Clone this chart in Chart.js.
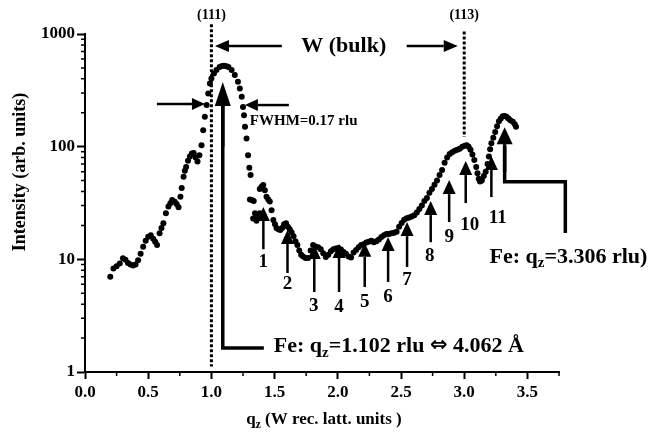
<!DOCTYPE html>
<html>
<head>
<meta charset="utf-8">
<script src="https://cdn.jsdelivr.net/npm/chart.js@4.4.0/dist/chart.umd.min.js"></script>
<style>body{margin:0;background:#fff}</style>
</head>
<body>
<canvas id="c" width="649" height="445"></canvas>
<script>
const qz = [
  0.200,0.225,0.250,0.275,0.300,0.320,0.340,0.360,0.380,0.400,0.420,0.440,0.460,0.480,0.500,0.520,0.540,0.555,0.570,0.590,
  0.605,0.620,0.640,0.660,0.675,0.690,0.710,0.725,0.740,0.755,0.765,0.780,0.790,0.800,0.815,0.830,0.845,0.860,0.875,0.890,
  0.905,0.922,0.935,0.948,0.962,0.975,0.988,1.000,1.020,1.040,1.065,1.085,1.100,1.120,1.135,1.160,1.185,1.210,1.225,1.240,
  1.250,1.258,1.266,1.278,1.290,1.300,1.310,1.305,1.320,1.335,1.330,1.345,1.357,1.370,1.383,1.383,1.397,1.410,1.423,1.436,
  1.450,1.462,1.476,1.490,1.503,1.515,1.530,1.545,1.560,1.575,1.590,1.605,1.620,1.635,1.650,1.665,1.680,1.695,1.710,1.725,
  1.745,1.765,1.785,1.805,1.825,1.845,1.865,1.885,1.905,1.925,1.945,1.965,1.985,2.005,2.025,2.045,2.065,2.085,2.105,2.125,
  2.145,2.165,2.185,2.205,2.225,2.245,2.265,2.285,2.305,2.325,2.345,2.365,2.385,2.405,2.425,2.445,2.465,2.485,2.505,2.525,
  2.545,2.565,2.585,2.605,2.625,2.645,2.665,2.685,2.705,2.725,2.745,2.765,2.785,2.805,2.825,2.845,2.865,2.885,2.905,2.925,
  2.945,2.965,2.985,3.005,3.020,3.035,3.050,3.065,3.080,3.095,3.105,3.115,3.125,3.140,3.155,3.170,3.185,3.195,3.205,3.215,
  3.230,3.245,3.260,3.275,3.290,3.305,3.320,3.335,3.350,3.365,3.385,3.400,3.410
];
const intensity = [
  7.0,8.3,8.7,9.2,10.2,9.9,9.3,9.0,8.8,9.0,9.8,11.2,12.9,14.6,15.9,16.4,15.2,14.3,13.4,17,
  19,20.9,25.6,29.5,31.5,33.6,32.5,31,29,36,43,54,61,66,75,82,87,88,80,74,
  84,103,140,184,234,297,363,403,447,478,510,520,522,518,510,478,432,377,329,277,
  225,190,150,118,84,65,56,34,33.6,33,23,25.6,22,24,25.6,42,44,45.6,41,36,
  34,32.6,27.3,22.3,20.5,19,18.5,18.2,19,20.5,20.9,19.5,18.5,17.3,16,14.5,13.4,12,11,10.6,
  10.3,10.3,12,13.4,13,12.8,12.3,11.3,10.5,11,11.8,12.3,12.5,12.6,12.2,11.6,11.2,10.6,10.4,11.5,
  12.1,12.8,13.4,13.6,14.1,14.3,14.6,14.2,14.5,15,15.8,16.4,16.8,16.8,17,17.2,17.6,19.5,21,22.5,
  23.2,23.5,24,24.6,26,28,30,33,35,39,42,46,50,56,62,72,80,86,89,92,
  94,96,100,102,103,100,94,85,76,66,58,52,49,50,55,60,70,82,95,107,
  120,135,152,168,178,186,187,184,178,172,166,158,150
];

const xTicks = [0, 0.5, 1.0, 1.5, 2.0, 2.5, 3.0, 3.5];
const xMinor = [0.25, 0.75, 1.25, 1.75, 2.25, 2.75, 3.25, 3.75];
const yTicks = [1, 10, 100, 1000];

// bulk W reflections
const braggQ = [1.0, 3.0];
const braggLabels = ['(111)', '(113)'];

// numbered arrows 1..11
const markerNames = ['1','2','3','4','5','6','7','8','9','10','11'];
const markerQ    = [1.411,1.602,1.814,2.010,2.213,2.398,2.548,2.735,2.881,3.012,3.215];
const markerTip  = [29.1,18.2,13.4,13.7,14.0,15.8,21.4,32.9,50.5,74.5,82.6];
const markerTail = [12.3,7.56,5.13,5.13,5.68,6.3,8.55,14.2,21.4,31.6,35.7];
const labelQ     = [1.411,1.602,1.810,2.010,2.213,2.398,2.548,2.727,2.881,3.043,3.265];
const labelI     = [9.46,6.0,3.85,3.8,4.2,4.6,6.55,10.7,15.8,20.2,23.3];

const SERIF = '"Liberation Serif", "Times New Roman", serif';
const font = (px, fam) => `bold ${px}px ${fam || SERIF}`;

function richText(ctx, parts, x, y, size, align) {
  const sz = p => p.sub ? size * 0.68 : size * (p.scale || 1);
  let w = 0;
  parts.forEach(p => { ctx.font = font(sz(p), p.fam); w += ctx.measureText(p.t).width; });
  let cx = align === 'center' ? x - w / 2 : x;
  ctx.textAlign = 'left';
  ctx.textBaseline = 'middle';
  parts.forEach(p => {
    ctx.font = font(sz(p), p.fam);
    ctx.fillText(p.t, cx, p.sub ? y + size * 0.3 : y);
    cx += ctx.measureText(p.t).width;
  });
}

function arrow(ctx, x1, y1, x2, y2, lw, hl, hw) {
  const a = Math.atan2(y2 - y1, x2 - x1);
  const bx = x2 - hl * Math.cos(a), by = y2 - hl * Math.sin(a);
  ctx.lineWidth = lw;
  ctx.beginPath(); ctx.moveTo(x1, y1); ctx.lineTo(bx, by); ctx.stroke();
  ctx.beginPath();
  ctx.moveTo(x2, y2);
  ctx.lineTo(bx + hw * Math.sin(a), by - hw * Math.cos(a));
  ctx.lineTo(bx - hw * Math.sin(a), by + hw * Math.cos(a));
  ctx.closePath(); ctx.fill();
}

const annotations = {
  id: 'annotations',
  afterDraw(chart) {
    const { ctx, scales: { x, y }, chartArea } = chart;
    const X = v => x.getPixelForValue(v), Y = v => y.getPixelForValue(v);
    ctx.save();
    ctx.fillStyle = '#000';
    ctx.strokeStyle = '#000';

    // minor ticks
    ctx.lineWidth = 1.5;
    ctx.beginPath();
    xMinor.forEach(v => { ctx.moveTo(X(v), chartArea.bottom); ctx.lineTo(X(v), chartArea.bottom + 4); });
    for (let d = 1; d < 1000; d *= 10) {
      for (let k = 2; k <= 9; k++) {
        const py = Y(d * k);
        ctx.moveTo(chartArea.left, py); ctx.lineTo(chartArea.left - 4, py);
      }
    }
    ctx.stroke();

    // dotted reflection lines
    ctx.setLineDash([3, 2]);
    ctx.lineWidth = 3;
    ctx.beginPath();
    ctx.moveTo(X(braggQ[0]), Y(1220)); ctx.lineTo(X(braggQ[0]), Y(1.12));
    ctx.moveTo(X(braggQ[1]), Y(1050)); ctx.lineTo(X(braggQ[1]), Y(122));
    ctx.stroke();
    ctx.setLineDash([]);
    ctx.font = font(14);
    ctx.textAlign = 'center';
    ctx.textBaseline = 'middle';
    braggLabels.forEach((t, i) => ctx.fillText(t, X(braggQ[i]), 15));

    // W (bulk) span
    ctx.lineCap = 'butt';
    arrow(ctx, X(1.557), Y(781), X(1.028), Y(781), 2.5, 14, 6);
    arrow(ctx, X(2.545), Y(781), X(2.949), Y(781), 2.5, 14, 6);
    ctx.font = font(22);
    ctx.fillText('W (bulk)', X(2.047), Y(781));

    // FWHM
    arrow(ctx, X(0.569), Y(239), X(0.949), Y(239), 2.5, 13, 6);
    arrow(ctx, X(1.613), Y(234), X(1.265), Y(234), 2.5, 13, 6);
    ctx.font = font(15);
    ctx.textAlign = 'left';
    ctx.fillText('FWHM=0.17 rlu', X(1.304), Y(169));

    // Fe peak near (111)
    ctx.lineWidth = 3.5;
    ctx.beginPath();
    ctx.moveTo(X(1.415), Y(1.63)); ctx.lineTo(X(1.09), Y(1.63)); ctx.lineTo(X(1.09), Y(300));
    ctx.stroke();
    arrow(ctx, X(1.09), Y(100), X(1.09), Y(374), 3.5, 24, 8);
    richText(ctx, [{ t: 'Fe: q' }, { t: 'z', sub: true }, { t: '=1.102 rlu ' },
                   { t: '\u21D4', fam: '"DejaVu Sans"', scale: 0.95 }, { t: ' 4.062 \u00C5' }],
             X(1.494), Y(1.7), 22, 'left');

    // Fe peak near (113)
    ctx.beginPath();
    ctx.moveTo(X(3.32), Y(100)); ctx.lineTo(X(3.32), Y(48.8)); ctx.lineTo(X(3.80), Y(48.8)); ctx.lineTo(X(3.80), Y(17.1));
    ctx.stroke();
    arrow(ctx, X(3.32), Y(60), X(3.32), Y(149), 3.5, 17, 8);
    richText(ctx, [{ t: 'Fe: q' }, { t: 'z', sub: true }, { t: '=3.306 rlu)' }], X(3.2), Y(10.5), 22, 'left');

    // numbered arrows
    markerQ.forEach((q, i) => {
      arrow(ctx, X(q), Y(markerTail[i]), X(q), Y(markerTip[i]), 2.5, 14, 6.5);
    });
    ctx.font = font(19);
    ctx.textAlign = 'center';
    ctx.textBaseline = 'middle';
    markerNames.forEach((t, i) => ctx.fillText(t, X(labelQ[i]), Y(labelI[i])));

    // axis titles
    richText(ctx, [{ t: 'q' }, { t: 'z', sub: true }, { t: ' (W rec. latt. units )' }], (chartArea.left + chartArea.right) / 2 + 2, 420, 17, 'center');
    ctx.save();
    ctx.translate(20, 172);
    ctx.rotate(-Math.PI / 2);
    ctx.font = font(18);
    ctx.textAlign = 'center';
    ctx.fillText('Intensity (arb. units)', 0, 0);
    ctx.restore();

    ctx.restore();
  }
};

new Chart(document.getElementById('c'), {
  type: 'scatter',
  data: {
    datasets: [{
      data: qz.map((q, i) => ({ x: q, y: intensity[i] })),
      backgroundColor: '#000',
      borderWidth: 0,
      pointRadius: 3
    }]
  },
  options: {
    responsive: false,
    animation: false,
    layout: { padding: { top: 34, right: 90, left: 0, bottom: 0 } },
    plugins: { legend: { display: false }, tooltip: { enabled: false } },
    scales: {
      x: {
        type: 'linear', min: 0, max: 3.75,
        afterBuildTicks: s => { s.ticks = xTicks.map(v => ({ value: v })); },
        afterFit: s => { s.height = 73; },
        grid: { drawOnChartArea: false, tickLength: 7, tickWidth: 2, tickColor: '#000' },
        border: { color: '#000', width: 2 },
        ticks: { color: '#000', font: { family: SERIF, size: 17, weight: 'bold' }, padding: 3, maxRotation: 0,
                 callback: v => Number(v).toFixed(1) }
      },
      y: {
        type: 'logarithmic', min: 1, max: 1000,
        afterBuildTicks: s => { s.ticks = yTicks.map(v => ({ value: v })); },
        afterFit: s => { s.width = 85; },
        grid: { drawOnChartArea: false, tickLength: 8, tickWidth: 2, tickColor: '#000' },
        border: { color: '#000', width: 2 },
        ticks: { color: '#000', font: { family: SERIF, size: 17, weight: 'bold' }, padding: 2,
                 callback: v => String(v) }
      }
    }
  },
  plugins: [annotations]
});
</script>
</body>
</html>
